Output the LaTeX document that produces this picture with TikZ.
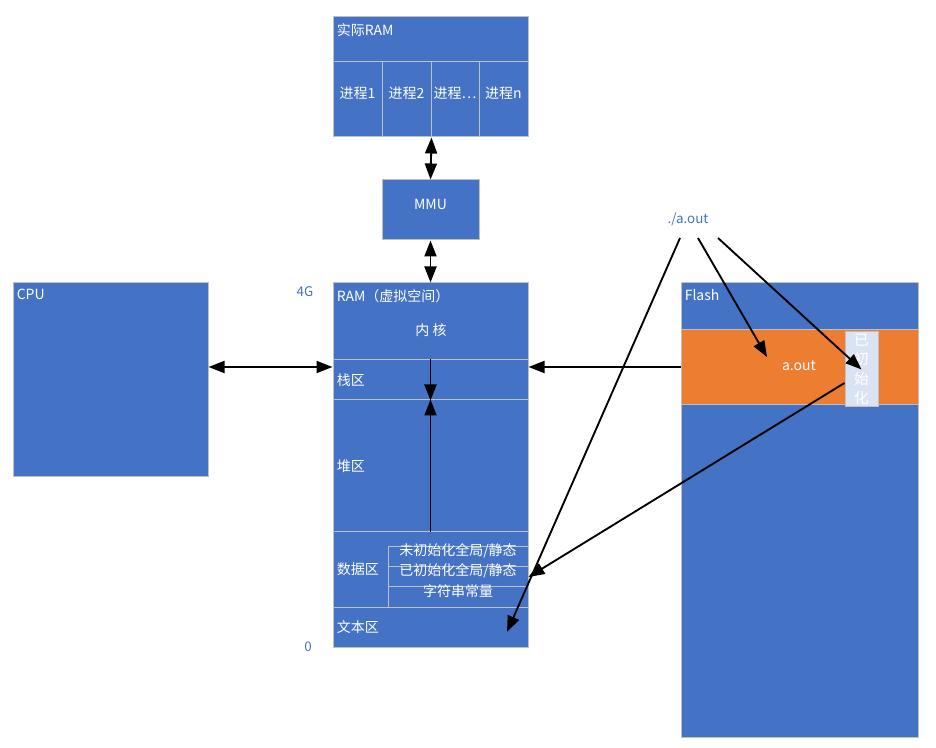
\documentclass[tikz,border=0pt]{standalone}
\usepackage{fontspec}
\setmainfont{Noto Sans CJK SC}
\usetikzlibrary{arrows.meta,fit,positioning}
\definecolor{ramblue}{HTML}{4472C4}
\definecolor{flashorange}{HTML}{ED7D31}
\definecolor{initfill}{HTML}{DAE3F3}
\definecolor{edgegray}{HTML}{BFBFBF}

\begin{document}
\begin{tikzpicture}[x=0.75pt,y=-0.75pt,>={Triangle[length=12pt,width=9pt]},
  blk/.style={draw=edgegray,fill=ramblue,line width=0.75pt,inner sep=0pt},
  lbl/.style={text=white,font=\fontsize{10.5}{12}\selectfont,inner sep=3pt},
  ttl/.style={lbl,anchor=north west,inner xsep=3pt,inner ysep=5pt},
  note/.style={text=ramblue,font=\fontsize{10}{12}\selectfont},
  conn/.style={line width=1.4pt}]
\useasboundingbox (0,0) rectangle (936,748);

% real RAM
\node[blk,fit={(333,17)(528,62)}](realhd){};
\node[ttl](realtitle) at (realhd.north west){实际RAM};
\node[blk,lbl,inner sep=0pt,fit={(333,62)(382,137)}](p1){进程1};
\node[blk,lbl,inner sep=0pt,fit={(382,62)(431,137)}](p2){进程2};
\node[blk,lbl,inner sep=0pt,fit={(431,62)(479,137)}](p3){进程…};
\node[blk,lbl,inner sep=0pt,fit={(479,62)(528,137)}](pn){进程n};

% MMU
\node[blk,lbl,inner sep=0pt,fit={(382,180)(479,240)}](mmu){MMU};

% CPU
\node[blk,fit={(13,283)(208,477)}](cpu){};
\node[ttl](cputitle) at (cpu.north west){CPU};

% virtual RAM
\node[blk,fit={(333,283)(528,360)}](kern){};
\node[ttl](ramtitle) at (kern.north west){RAM（虚拟空间）};
\node[lbl](kernlbl) at (431,330){内\ 核};
\node[blk,fit={(333,360)(528,400)}](stack){};
\node[lbl,anchor=west](stacklbl) at (stack.west){栈区};
\node[blk,fit={(333,400)(528,532)}](heap){};
\node[lbl,anchor=west](heaplbl) at (heap.west){堆区};
\node[blk,fit={(333,532)(528,607)}](data){};
\node[lbl,anchor=west](datalbl) at (data.west){数据区};
\node[blk,lbl,inner sep=0pt,fit={(388,547)(528,567)}](d1){未初始化全局/静态};
\node[blk,lbl,inner sep=0pt,fit={(388,567)(528,587)}](d2){已初始化全局/静态};
\node[blk,lbl,inner sep=0pt,fit={(388,587)(528,607)}](d3){字符串常量};
\node[blk,fit={(333,607)(528,647)}](text){};
\node[lbl,anchor=west](textlbl) at (text.west){文本区};

\node[note](top4g) at (305,292){4G};
\node[note](bot0) at (308,647){0};

% Flash
\node[blk,fit={(681,283)(918,737)}](flash){};
\node[ttl](flashtitle) at (flash.north west){Flash};
\node[blk,fill=flashorange,fit={(681,330)(918,405)}](band){};
\node[lbl](aout) at (799,366){a.out};
\node[blk,fill=initfill,fit={(845,332)(878,407)}](init){};
\node[text=white,font=\fontsize{11}{14.5}\selectfont,align=center,inner sep=0pt](initlbl) at (init.center){已\\初\\始\\化};

\node[note](cmd) at (688,219){./a.out};

\coordinate (busy) at (0,367);
\coordinate (c1) at (680,238);
\coordinate (c2) at (698,238);
\coordinate (c3) at (718,238);
\coordinate (hit) at (767,357);
\coordinate (txthit) at (507,632);

\draw[conn,<->](p2.south east)--(mmu.north);
\draw[conn,<->](mmu.south)--(kern.north);
\draw[conn,<->](cpu.east |- busy)--(stack.west |- busy);
\draw[conn,->](flash.west |- busy)--(stack.east |- busy);
\draw[conn,->](stack.north)--(stack.south);
\draw[conn,->](heap.south)--(heap.north);
\draw[conn,->](c1)--(txthit);
\draw[conn,->](c2)--(hit);
\draw[conn,->](c3)--(init.center);
\draw[conn,->](init.west |- 0,383)--(d2.east);
\end{tikzpicture}
\end{document}
